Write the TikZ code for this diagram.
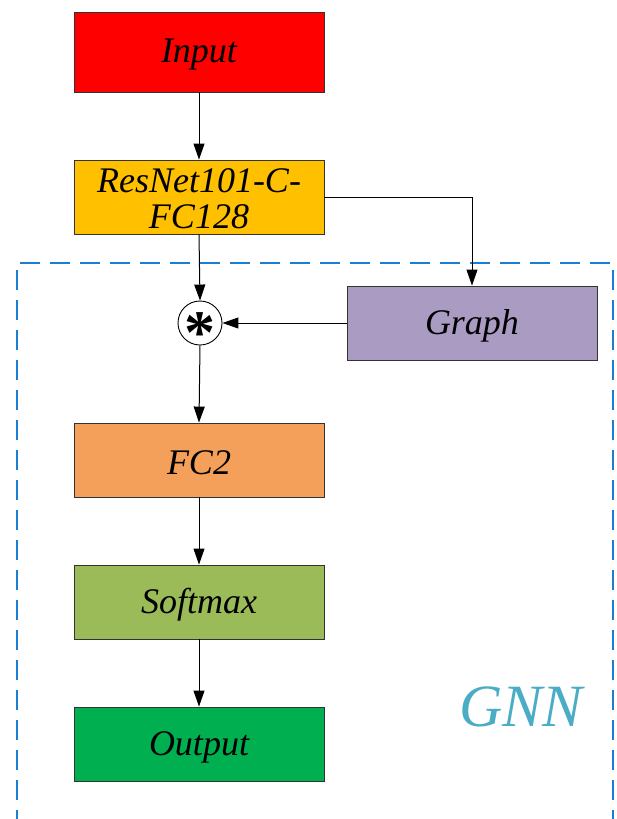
\documentclass[tikz,border=0pt]{standalone}
\usepackage{fontspec}
\setmainfont{Liberation Serif}
\usetikzlibrary{arrows.meta}
\definecolor{cinput}{HTML}{FF0000}
\definecolor{cres}{HTML}{FFC000}
\definecolor{cgraph}{HTML}{A99BC1}
\definecolor{cfc}{HTML}{F4A05A}
\definecolor{csoft}{HTML}{9BBB59}
\definecolor{cout}{HTML}{00B050}
\definecolor{cdash}{HTML}{1A7FD4}
\definecolor{cgnn}{HTML}{4BACC6}
\tikzset{
  blk/.style={draw=black!80, line width=0.9pt, minimum width=250pt, minimum height=74pt, inner sep=0pt},
  lbl/.style={inner sep=0pt, align=center, font=\fontsize{36}{36}\selectfont\itshape},
  arr/.style={-{Triangle[length=16pt,width=11pt]}, line width=1pt},
}
\begin{document}
\begin{tikzpicture}[x=1pt,y=-1pt]
\useasboundingbox (0,0) rectangle (616,819);
\draw[cdash, line width=2pt, dash pattern=on 20pt off 10pt] (17,830) -- (17,263) -- (613,263) -- (613,830);
\node[blk, fill=cinput, minimum height=80pt] (in) at (199,52) {};
\node[blk, fill=cres] (res) at (199,197) {};
\node[draw=black, line width=0.9pt, circle, minimum size=44pt, inner sep=0pt] (mul) at (200,323) {};
\node[font=\fontsize{62}{62}\selectfont\bfseries] (ast) at (200,333) {*};
\node[blk, fill=cgraph] (gr) at (472,323) {};
\node[blk, fill=cfc] (fc) at (199,460) {};
\node[blk, fill=csoft] (sm) at (199,602) {};
\node[blk, fill=cout] (out) at (199,744) {};
\node[lbl] (tin) at ([yshift=-3pt]in.center) {Input};
\node[lbl] (tres) at ([yshift=-2pt]res.center) {ResNet101-C-\\FC128};
\node[lbl] (tgr) at ([yshift=-3pt]gr.center) {Graph};
\node[lbl] (tfc) at ([yshift=-3pt]fc.center) {FC2};
\node[lbl] (tsm) at ([yshift=-3pt]sm.center) {Softmax};
\node[lbl] (tout) at ([yshift=-3pt]out.center) {Output};
\node[text=cgnn, font=\fontsize{60}{60}\selectfont\itshape] (gnn) at (521,707) {GNN};
\draw[arr] (in.south) -- (res.north);
\draw[arr] (res.south) -- (mul.north);
\draw[arr] (mul.south) -- (fc.north);
\draw[arr] (gr.west) -- (mul.east);
\draw[arr] (res.east |- 0,197) -| (gr.north);
\draw[arr] (fc.south) -- (sm.north);
\draw[arr] (sm.south) -- (out.north);
\end{tikzpicture}
\end{document}
